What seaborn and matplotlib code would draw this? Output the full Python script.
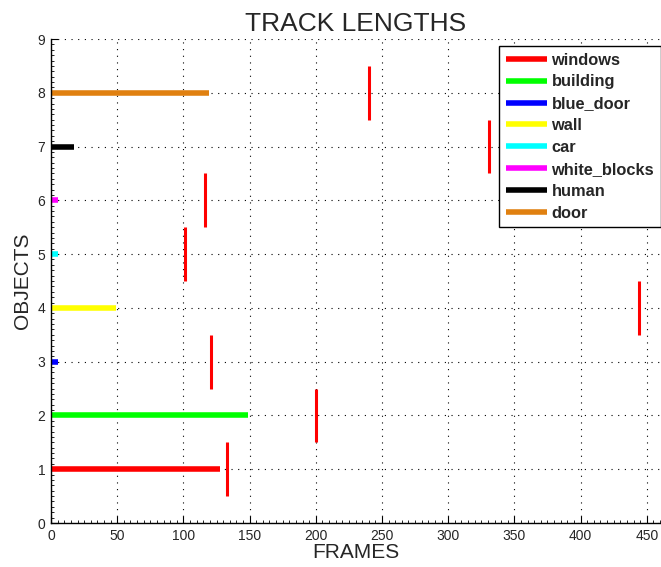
import matplotlib
matplotlib.use('Agg')
import matplotlib.pyplot as plt
from matplotlib.ticker import MultipleLocator
import seaborn as sns
import pandas as pd

# === DATA ===
objects = ['windows', 'building', 'blue_door', 'wall', 'car', 'white_blocks', 'human', 'door']
object_y = [1, 2, 3, 4, 5, 6, 7, 8]
track_end = [128, 149, 5, 49, 5, 5, 17, 119]
colors = ['#ff0000', '#00ff00', '#0000ff', '#ffff00', '#00ffff', '#ff00ff', '#000000', '#e08010']

# red markers (one per object row)
marker_x = [133, 200, 121, 444, 101, 116, 331, 240]

# === STYLE ===
sns.set_theme(style='white')
plt.rcParams['font.family'] = ['Liberation Sans', 'DejaVu Sans']
plt.rcParams['xtick.direction'] = 'in'
plt.rcParams['ytick.direction'] = 'in'

rows = []
for name, y, end in zip(objects, object_y, track_end):
    rows.append({'object': name, 'frame': 0, 'y': y})
    rows.append({'object': name, 'frame': end, 'y': y})
df = pd.DataFrame(rows)

fig = plt.figure(figsize=(6.61, 5.67), dpi=100)
ax = fig.add_axes([0.0772, 0.0776, 0.9213, 0.8536])

sns.lineplot(data=df, x='frame', y='y', hue='object', hue_order=objects,
             palette=dict(zip(objects, colors)), estimator=None, sort=False,
             linewidth=4.0, solid_capstyle='butt', ax=ax)

ax.vlines(marker_x, [y - 0.5 for y in object_y], [y + 0.5 for y in object_y],
          color='#ff0000', linewidth=2.2)

ax.set_xlim(0, 460)
ax.set_ylim(0, 9)
ax.xaxis.set_major_locator(MultipleLocator(50))
ax.xaxis.set_minor_locator(MultipleLocator(5))
ax.yaxis.set_major_locator(MultipleLocator(1))
ax.yaxis.set_minor_locator(MultipleLocator(0.1))
ax.tick_params(which='major', length=5, width=0.8, color='black', labelsize=10, pad=4)
ax.tick_params(which='minor', length=2.5, width=0.6, color='black')
ax.tick_params(axis='both', which='both', bottom=True, left=True, top=False, right=False)

ax.grid(True, which='major', color='black', linestyle=(0, (1, 5)), linewidth=0.8)
for side in ['top', 'right']:
    ax.spines[side].set_visible(False)
for side in ['left', 'bottom']:
    ax.spines[side].set_color('black')
    ax.spines[side].set_linewidth(1.0)

ax.set_title('TRACK LENGTHS', fontsize=19, pad=6)
ax.set_xlabel('FRAMES', fontsize=15, labelpad=0)
ax.set_ylabel('OBJECTS', fontsize=15, labelpad=4)

handles, labels = ax.get_legend_handles_labels()
leg = ax.legend(handles, labels, loc='upper left', bbox_to_anchor=(0.7356, 0.9855),
                borderaxespad=0, frameon=True, fancybox=False, framealpha=1,
                edgecolor='black', handlelength=2.5, handletextpad=0.3,
                labelspacing=0.42, borderpad=0.4,
                prop={'weight': 'bold', 'size': 11.8})
leg.get_frame().set_linewidth(1.0)
for h in leg.legend_handles:
    h.set_linewidth(4)

fig.savefig('out.png', dpi=100)
